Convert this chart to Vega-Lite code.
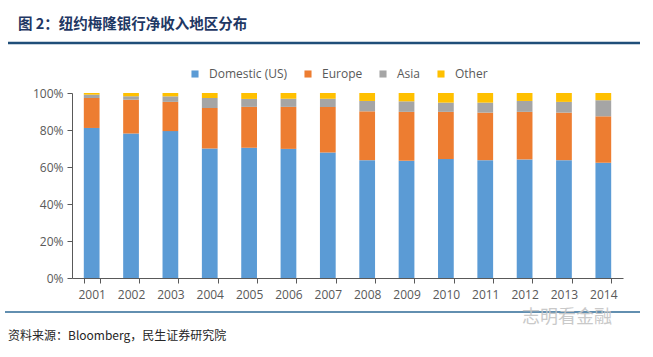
{
  "$schema": "https://vega.github.io/schema/vega-lite/v6.json",
  "autosize": {"type": "none"},
  "padding": {"left": 72, "top": 93, "right": 30, "bottom": 79},
  "width": 551,
  "height": 185,
  "background": "white",
  "config": {
    "view": {"stroke": null},
    "font": "Open Sans"
  },
  "layer": [
    {
      "data": {
        "values": [
          {"year": "2001", "region": "Domestic (US)", "share": 0.811, "ord": 1},
          {"year": "2001", "region": "Europe", "share": 0.162, "ord": 2},
          {"year": "2001", "region": "Asia", "share": 0.018, "ord": 3},
          {"year": "2001", "region": "Other", "share": 0.009, "ord": 4},
          {"year": "2002", "region": "Domestic (US)", "share": 0.781, "ord": 1},
          {"year": "2002", "region": "Europe", "share": 0.183, "ord": 2},
          {"year": "2002", "region": "Asia", "share": 0.018, "ord": 3},
          {"year": "2002", "region": "Other", "share": 0.018, "ord": 4},
          {"year": "2003", "region": "Domestic (US)", "share": 0.794, "ord": 1},
          {"year": "2003", "region": "Europe", "share": 0.158, "ord": 2},
          {"year": "2003", "region": "Asia", "share": 0.030, "ord": 3},
          {"year": "2003", "region": "Other", "share": 0.018, "ord": 4},
          {"year": "2004", "region": "Domestic (US)", "share": 0.700, "ord": 1},
          {"year": "2004", "region": "Europe", "share": 0.219, "ord": 2},
          {"year": "2004", "region": "Asia", "share": 0.054, "ord": 3},
          {"year": "2004", "region": "Other", "share": 0.027, "ord": 4},
          {"year": "2005", "region": "Domestic (US)", "share": 0.704, "ord": 1},
          {"year": "2005", "region": "Europe", "share": 0.221, "ord": 2},
          {"year": "2005", "region": "Asia", "share": 0.043, "ord": 3},
          {"year": "2005", "region": "Other", "share": 0.032, "ord": 4},
          {"year": "2006", "region": "Domestic (US)", "share": 0.698, "ord": 1},
          {"year": "2006", "region": "Europe", "share": 0.227, "ord": 2},
          {"year": "2006", "region": "Asia", "share": 0.044, "ord": 3},
          {"year": "2006", "region": "Other", "share": 0.031, "ord": 4},
          {"year": "2007", "region": "Domestic (US)", "share": 0.679, "ord": 1},
          {"year": "2007", "region": "Europe", "share": 0.246, "ord": 2},
          {"year": "2007", "region": "Asia", "share": 0.044, "ord": 3},
          {"year": "2007", "region": "Other", "share": 0.031, "ord": 4},
          {"year": "2008", "region": "Domestic (US)", "share": 0.637, "ord": 1},
          {"year": "2008", "region": "Europe", "share": 0.264, "ord": 2},
          {"year": "2008", "region": "Asia", "share": 0.056, "ord": 3},
          {"year": "2008", "region": "Other", "share": 0.043, "ord": 4},
          {"year": "2009", "region": "Domestic (US)", "share": 0.634, "ord": 1},
          {"year": "2009", "region": "Europe", "share": 0.264, "ord": 2},
          {"year": "2009", "region": "Asia", "share": 0.057, "ord": 3},
          {"year": "2009", "region": "Other", "share": 0.045, "ord": 4},
          {"year": "2010", "region": "Domestic (US)", "share": 0.643, "ord": 1},
          {"year": "2010", "region": "Europe", "share": 0.255, "ord": 2},
          {"year": "2010", "region": "Asia", "share": 0.050, "ord": 3},
          {"year": "2010", "region": "Other", "share": 0.052, "ord": 4},
          {"year": "2011", "region": "Domestic (US)", "share": 0.637, "ord": 1},
          {"year": "2011", "region": "Europe", "share": 0.257, "ord": 2},
          {"year": "2011", "region": "Asia", "share": 0.054, "ord": 3},
          {"year": "2011", "region": "Other", "share": 0.052, "ord": 4},
          {"year": "2012", "region": "Domestic (US)", "share": 0.641, "ord": 1},
          {"year": "2012", "region": "Europe", "share": 0.257, "ord": 2},
          {"year": "2012", "region": "Asia", "share": 0.059, "ord": 3},
          {"year": "2012", "region": "Other", "share": 0.043, "ord": 4},
          {"year": "2013", "region": "Domestic (US)", "share": 0.637, "ord": 1},
          {"year": "2013", "region": "Europe", "share": 0.257, "ord": 2},
          {"year": "2013", "region": "Asia", "share": 0.058, "ord": 3},
          {"year": "2013", "region": "Other", "share": 0.048, "ord": 4},
          {"year": "2014", "region": "Domestic (US)", "share": 0.623, "ord": 1},
          {"year": "2014", "region": "Europe", "share": 0.251, "ord": 2},
          {"year": "2014", "region": "Asia", "share": 0.087, "ord": 3},
          {"year": "2014", "region": "Other", "share": 0.039, "ord": 4}
        ]
      },
      "mark": {"type": "bar"},
      "encoding": {
        "x": {
          "field": "year",
          "type": "ordinal",
          "scale": {"paddingInner": 0.6, "paddingOuter": 0.3},
          "axis": {
            "title": null,
            "labelAngle": 0,
            "labelFontSize": 12,
            "labelColor": "#595959",
            "labelPadding": 6,
            "tickBand": "extent",
            "tickSize": 5,
            "tickColor": "#595959",
            "domainColor": "#595959",
            "domainWidth": 1
          }
        },
        "y": {
          "field": "share",
          "type": "quantitative",
          "stack": "zero",
          "scale": {"domain": [0, 1], "nice": false},
          "axis": {
            "title": null,
            "format": ".0%",
            "values": [0, 0.2, 0.4, 0.6, 0.8, 1],
            "grid": false,
            "labelFontSize": 12,
            "labelColor": "#595959",
            "tickSize": 5,
            "tickColor": "#595959",
            "domainColor": "#595959",
            "labelPadding": 4
          }
        },
        "color": {
          "field": "region",
          "type": "nominal",
          "scale": {
            "domain": ["Domestic (US)", "Europe", "Asia", "Other"],
            "range": ["#5B9BD5", "#ED7D31", "#A5A5A5", "#FFC000"]
          },
          "legend": {
            "title": null,
            "orient": "none",
            "direction": "horizontal",
            "legendX": 117,
            "legendY": -25,
            "symbolType": "square",
            "symbolSize": 50,
            "symbolStrokeWidth": 0,
            "labelFontSize": 12,
            "labelColor": "#595959",
            "columnPadding": 14,
            "labelOffset": 8
          }
        },
        "order": {"field": "ord", "type": "quantitative", "sort": "ascending"}
      }
    },
    {
      "data": {"values": [{}]},
      "mark": {"type": "rule", "color": "#1F4E79", "strokeWidth": 2.5},
      "encoding": {"x": {"value": -64}, "x2": {"value": 568}, "y": {"value": -50}}
    },
    {
      "data": {"values": [{}]},
      "mark": {"type": "rule", "color": "#2E6A96", "strokeWidth": 1.5},
      "encoding": {"x": {"value": -67}, "x2": {"value": 568}, "y": {"value": 219}}
    },
    {
      "data": {"values": [{"t": "图 2：纽约梅隆银行净收入地区分布"}]},
      "mark": {"type": "text", "align": "left", "baseline": "middle", "font": "Noto Sans CJK SC", "fontSize": 14.5, "fontWeight": "bold", "color": "#1F3864"},
      "encoding": {"text": {"field": "t"}, "x": {"value": -54}, "y": {"value": -68}}
    },
    {
      "data": {"values": [{"t": "资料来源：Bloomberg，民生证券研究院"}]},
      "mark": {"type": "text", "align": "left", "baseline": "middle", "font": "Noto Sans CJK SC", "fontSize": 12, "color": "#262626"},
      "encoding": {"text": {"field": "t"}, "x": {"value": -64}, "y": {"value": 243}}
    },
    {
      "data": {"values": [{"t": "志明看金融"}]},
      "mark": {"type": "text", "align": "left", "baseline": "middle", "font": "Noto Sans CJK SC", "fontSize": 18, "color": "#c4c4c4", "opacity": 0.9},
      "encoding": {"text": {"field": "t"}, "x": {"value": 450}, "y": {"value": 225}}
    }
  ]
}
